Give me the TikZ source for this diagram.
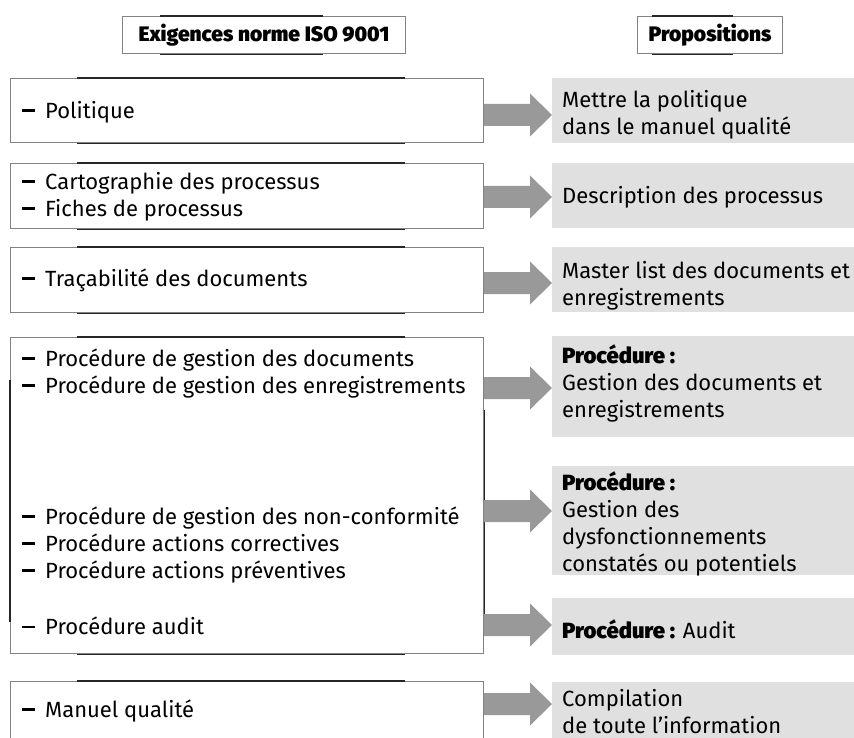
\documentclass[tikz,border=0pt]{standalone}
\usepackage{fontspec}
\setmainfont{Fira Sans}
\newfontfamily\heavyfont{Fira Sans Black}
\usetikzlibrary{calc}
\definecolor{boxgray}{RGB}{224,224,224}
\definecolor{arrowgray}{RGB}{153,153,153}
\definecolor{edgegray}{RGB}{130,130,130}
\newcommand\fatarrow[2]{%
  \fill[arrowgray] ($(#1)+(0,-11)$) -- ($(#2)+(-22,-11)$) -- ($(#2)+(-22,-21.5)$) -- (#2)
    -- ($(#2)+(-22,21.5)$) -- ($(#2)+(-22,11)$) -- ($(#1)+(0,11)$) -- cycle;}
\newcommand\bd{\hspace*{2pt}\rule[6.5pt]{13pt}{2.6pt}\hspace*{10pt}}
\begin{document}
\begin{tikzpicture}[x=1pt,y=-1pt,
  every node/.style={font=\fontsize{22}{27}\selectfont, inner sep=0pt},
  head/.style={draw=edgegray, line width=1.2pt, fill=white, anchor=north west},
  lbox/.style={draw=edgegray, line width=1.2pt, fill=white, anchor=north west},
  rbox/.style={fill=boxgray, anchor=north west},
  ltext/.style={anchor=west, align=left},
  rtext/.style={anchor=west, align=left},
  htext/.style={font=\heavyfont\fontsize{21}{25}\selectfont},
  darkedge/.style={draw=black!85, line width=1.2pt}
]
\clip (0,0) rectangle (854,738);
\fill[white] (0,0) rectangle (854,738);

% headers
\node[head, minimum width=283pt, minimum height=37pt] (H1) at (122,16) {};
\draw[darkedge] (H1.north west -| 160,0) -- (H1.north west -| 323,0)
                (H1.south west -| 160,0) -- (H1.south west -| 323,0);
\node[htext] (H1t) at (H1.center) {Exigences norme ISO 9001};
\node[head, minimum width=145pt, minimum height=37pt] (H2) at (637,16) {};
\draw[darkedge] (H2.north west -| 652,0) -- (H2.north west -| 733,0)
                (H2.south west -| 652,0) -- (H2.south west -| 733,0);
\node[htext] (H2t) at (H2.center) {Propositions};

% left boxes
\node[lbox, minimum width=473pt, minimum height=64pt] (L1) at (10,78) {};
\node[lbox, minimum width=473pt, minimum height=65pt] (L2) at (10,163) {};
\node[lbox, minimum width=473pt, minimum height=65pt] (L3) at (10,247) {};
\node[lbox, minimum width=473pt, minimum height=316pt] (L4) at (10,337) {};
\node[lbox, minimum width=473pt, minimum height=90pt] (L5) at (10,681) {};
\foreach \b in {L1,L2,L3,L4}{
  \draw[darkedge] (\b.north west -| 77,0) -- (\b.north west -| 405,0)
                  (\b.south west -| 77,0) -- (\b.south west -| 405,0);
}
\draw[darkedge] (L5.north west -| 77,0) -- (L5.north west -| 405,0);
\draw[darkedge] (L4.west |- 0,380) -- (L4.west |- 0,622)
                (L4.east |- 0,410) -- (L4.east |- 0,622);

% right boxes
\node[rbox, minimum width=310pt, minimum height=65pt] (R1) at (552,78) {};
\node[rbox, minimum width=310pt, minimum height=65pt] (R2) at (552,163) {};
\node[rbox, minimum width=310pt, minimum height=65pt] (R3) at (552,247) {};
\node[rbox, minimum width=310pt, minimum height=101pt] (R4) at (552,336) {};
\node[rbox, minimum width=310pt, minimum height=109pt] (R5) at (552,466) {};
\node[rbox, minimum width=310pt, minimum height=57pt] (R6) at (552,598) {};
\node[rbox, minimum width=310pt, minimum height=90pt] (R7) at (552,682) {};

% left texts
\node[ltext] (T1) at (20,112) {\bd Politique};
\node[ltext] (T2) at (20,196.5) {\bd Cartographie des processus\\\bd Fiches de processus};
\node[ltext] (T3) at (20,280) {\bd Traçabilité des documents};
\node[ltext] (T4) at (20,373.5) {\bd Procédure de gestion des documents\\\bd Procédure de gestion des enregistrements};
\node[ltext] (T5) at (20,545) {\bd Procédure de gestion des non-conformité\\\bd Procédure actions correctives\\\bd Procédure actions préventives};
\node[ltext] (T6) at (20,626) {\bd Procédure audit};
\node[ltext] (T7) at (20,711) {\bd Manuel qualité};

% right texts
\node[rtext] (P1) at (562,114.5) {Mettre la politique\\dans le manuel qualité};
\node[rtext] (P2) at (562,197) {Description des processus};
\node[rtext] (P3) at (562,285.5) {Master list des documents et\\enregistrements};
\node[rtext] (P4) at (562,383) {{\heavyfont Procédure :}\\Gestion des documents et\\enregistrements};
\node[rtext] (P5) at (562,524) {{\heavyfont Procédure :}\\Gestion des\\dysfonctionnements\\constatés ou potentiels};
\node[rtext] (P6) at (562,629) {{\heavyfont Procédure :} Audit};
\node[rtext] (P7) at (562,712) {Compilation\\de toute l’information};

% arrows
\foreach \i/\y in {1/115,2/197,3/283,4/388,5/511,6/625,7/704}{
  \coordinate (a\i s) at (L1.east |- 0,\y);
  \coordinate (a\i e) at (R1.west |- 0,\y);
}
\fatarrow{a1s}{a1e}
\fatarrow{a2s}{a2e}
\fatarrow{a3s}{a3e}
\fatarrow{a4s}{a4e}
\fatarrow{a5s}{a5e}
\fatarrow{a6s}{a6e}
\fatarrow{a7s}{a7e}
\end{tikzpicture}
\end{document}
